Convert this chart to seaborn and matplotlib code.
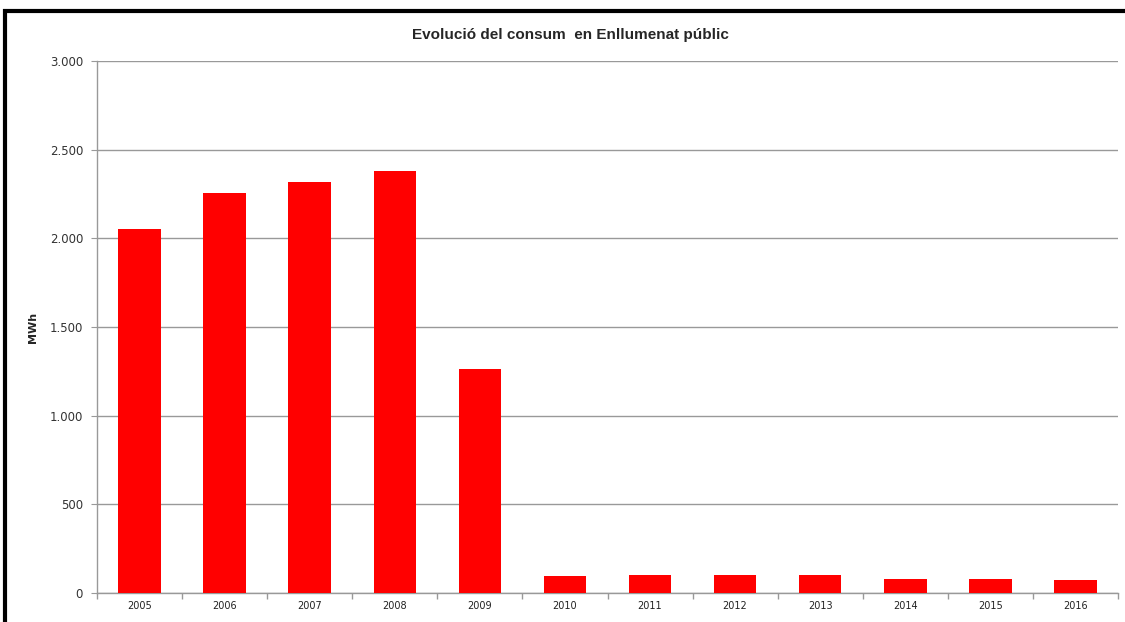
import pandas as pd
import numpy as np
import matplotlib
matplotlib.use("Agg")
import matplotlib.pyplot as plt
from matplotlib.ticker import FuncFormatter, FixedLocator
import seaborn as sns

# Data
years = ["2005", "2006", "2007", "2008", "2009", "2010",
         "2011", "2012", "2013", "2014", "2015", "2016"]
consum_mwh = [2055, 2257, 2315, 2379, 1265, 94,
              101, 101, 101, 81, 81, 73]
y_ticks = [0, 500, 1000, 1500, 2000, 2500, 3000]

data = pd.DataFrame({"Any": years, "MWh": consum_mwh})

sns.set_style("white")
plt.rcParams["font.family"] = ["DejaVu Sans"]

fig = plt.figure(figsize=(11.25, 6.22), dpi=100)
ax = fig.add_axes([97 / 1125, 1 - 593 / 622, (1118 - 97) / 1125, (593 - 61) / 622])

sns.barplot(data=data, x="Any", y="MWh", color="#ff0000", saturation=1,
            width=0.5, linewidth=0, ax=ax, zorder=3)

# y axis
ax.set_ylim(0, 3000)
ax.set_yticks(y_ticks)
ax.yaxis.set_major_formatter(FuncFormatter(lambda v, p: f"{int(v):,}".replace(",", ".")))
ax.grid(axis="y", color="#999999", linewidth=1, zorder=0)
ax.tick_params(axis="y", left=True, length=4, color="#999999", labelsize=8.5,
               labelcolor="#333333", pad=6)

# x axis: tick marks between categories
ax.set_xlim(-0.5, len(years) - 0.5)
ax.tick_params(axis="x", which="major", bottom=False, length=0, labelsize=7,
               labelcolor="#222222", pad=6)
ax.xaxis.set_minor_locator(FixedLocator(np.arange(-0.5, len(years), 1.0)))
ax.tick_params(axis="x", which="minor", bottom=True, length=4, width=1,
               color="#999999", direction="out")

for side in ["top", "right"]:
    ax.spines[side].set_visible(False)
for side in ["left", "bottom"]:
    ax.spines[side].set_color("#999999")
    ax.spines[side].set_linewidth(1)

ax.set_xlabel("")
ax.set_ylabel("MWh", fontsize=8, fontweight="bold")
ax.yaxis.set_label_coords(-0.058, 0.5)

fig.text(570 / 1125, 1 - 35 / 622, "Evolució del consum  en Enllumenat públic",
         ha="center", va="center", fontsize=11, fontweight="bold",
         family=["Liberation Sans", "DejaVu Sans"])

# black frame of the chart object (clipped at right and bottom)
frame = plt.Rectangle((5 / 1125, -0.1), 1.2, 1 - 11 / 622 + 0.1,
                      transform=fig.transFigure, fill=False,
                      edgecolor="black", linewidth=3, clip_on=False)
fig.add_artist(frame)

fig.savefig("out.png", dpi=100)
